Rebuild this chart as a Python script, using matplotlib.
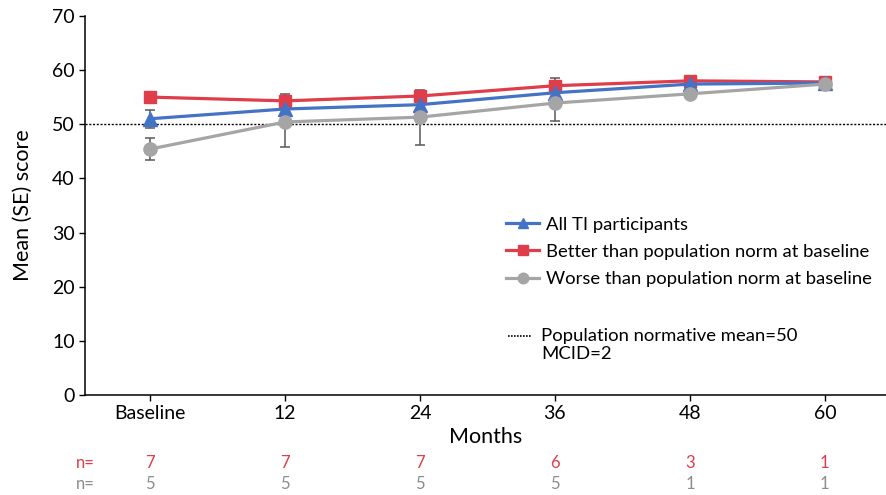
import matplotlib
matplotlib.use("Agg")
import matplotlib.pyplot as plt
from matplotlib.transforms import blended_transform_factory
import numpy as np

plt.rcParams["font.family"] = ["Lato", "DejaVu Sans"]

# data
timepoints = ["Baseline", "12", "24", "36", "48", "60"]
all_ti = [51.0, 52.8, 53.6, 55.8, 57.4, 57.6]
all_ti_se = [1.7, 1.0, 1.0, 1.2, 0.5, 0.3]
better = [55.0, 54.3, 55.2, 57.1, 58.0, 57.8]
better_se = [0.7, 1.2, 0.9, 1.4, 0.4, 0.3]
worse = [45.4, 50.4, 51.3, 53.9, 55.6, 57.4]
worse_se = [2.1, 4.6, 5.1, 3.3, 0.0, 0.0]
n_better = [7, 7, 7, 6, 3, 1]
n_worse = [5, 5, 5, 5, 1, 1]
norm_mean = 50

BLUE = "#4472C4"
RED = "#DE3D49"
GREY = "#A5A5A5"
ERR = "#595959"
NGREY = "#8C8C8C"

fig = plt.figure(figsize=(8.87, 4.95), dpi=100)
ax = fig.add_axes([0.096, 0.202, 0.904, 0.766])

x = np.arange(len(timepoints))

ax.axhline(norm_mean, color="black", lw=1.0, ls=(0, (1.5, 1.2)), zorder=1)

series = [
    (better, better_se, RED, "s", 8.5, "Better than population norm at baseline", 3),
    (all_ti, all_ti_se, BLUE, "^", 9.5, "All TI participants", 4),
    (worse, worse_se, GREY, "o", 9.5, "Worse than population norm at baseline", 5),
]
handles = {}
for vals, se, col, mk, ms, lab, z in series:
    ax.errorbar(x, vals, yerr=se, fmt="none", ecolor=ERR, elinewidth=1.1,
                capsize=3.5, capthick=1.1, zorder=2)
    h, = ax.plot(x, vals, color=col, lw=2.3, marker=mk, markersize=ms,
                 label=lab, zorder=z)
    handles[lab] = h

order = ["All TI participants", "Better than population norm at baseline",
         "Worse than population norm at baseline"]
ax.legend([handles[k] for k in order], order, loc="upper left",
          bbox_to_anchor=(0.525, 0.47), frameon=False, fontsize=13.3,
          handlelength=1.8, handletextpad=0.35, labelspacing=0.6,
          borderpad=0, borderaxespad=0, markerscale=0.8)

# normative mean note with its own dotted key
ax.plot([0.527, 0.557], [0.156, 0.156], transform=ax.transAxes, color="black",
        lw=1.2, ls=(0, (1.0, 0.8)), clip_on=False)
ax.text(0.569, 0.133, "Population normative mean=50\nMCID=2", fontsize=13.3,
        ha="left", va="center", linespacing=1.15, transform=ax.transAxes)

ax.set_xlim(-0.48, 5.46)
ax.set_ylim(0, 70)
ax.set_yticks(range(0, 71, 10))
ax.set_xticks(x)
ax.set_xticklabels(timepoints)
ax.tick_params(axis="both", labelsize=14, direction="out", length=4,
               width=1, colors="black")
for s in ["top", "right"]:
    ax.spines[s].set_visible(False)
for s in ["left", "bottom"]:
    ax.spines[s].set_linewidth(1.1)

ax.set_xlabel("Months", fontsize=15.5, labelpad=3)
ax.set_ylabel("Mean (SE) score", fontsize=15.5, labelpad=14)

tr = blended_transform_factory(ax.transData, ax.transAxes)
ax.text(-0.48, -0.178, "n=", color=RED, fontsize=12, ha="center",
        va="center", transform=tr)
ax.text(-0.48, -0.235, "n=", color=NGREY, fontsize=12, ha="center",
        va="center", transform=tr)
for xi, nb, nw in zip(x, n_better, n_worse):
    ax.text(xi, -0.178, str(nb), color=RED, fontsize=12, ha="center",
            va="center", transform=tr)
    ax.text(xi, -0.235, str(nw), color=NGREY, fontsize=12, ha="center",
            va="center", transform=tr)

fig.savefig("out.png", dpi=100)
